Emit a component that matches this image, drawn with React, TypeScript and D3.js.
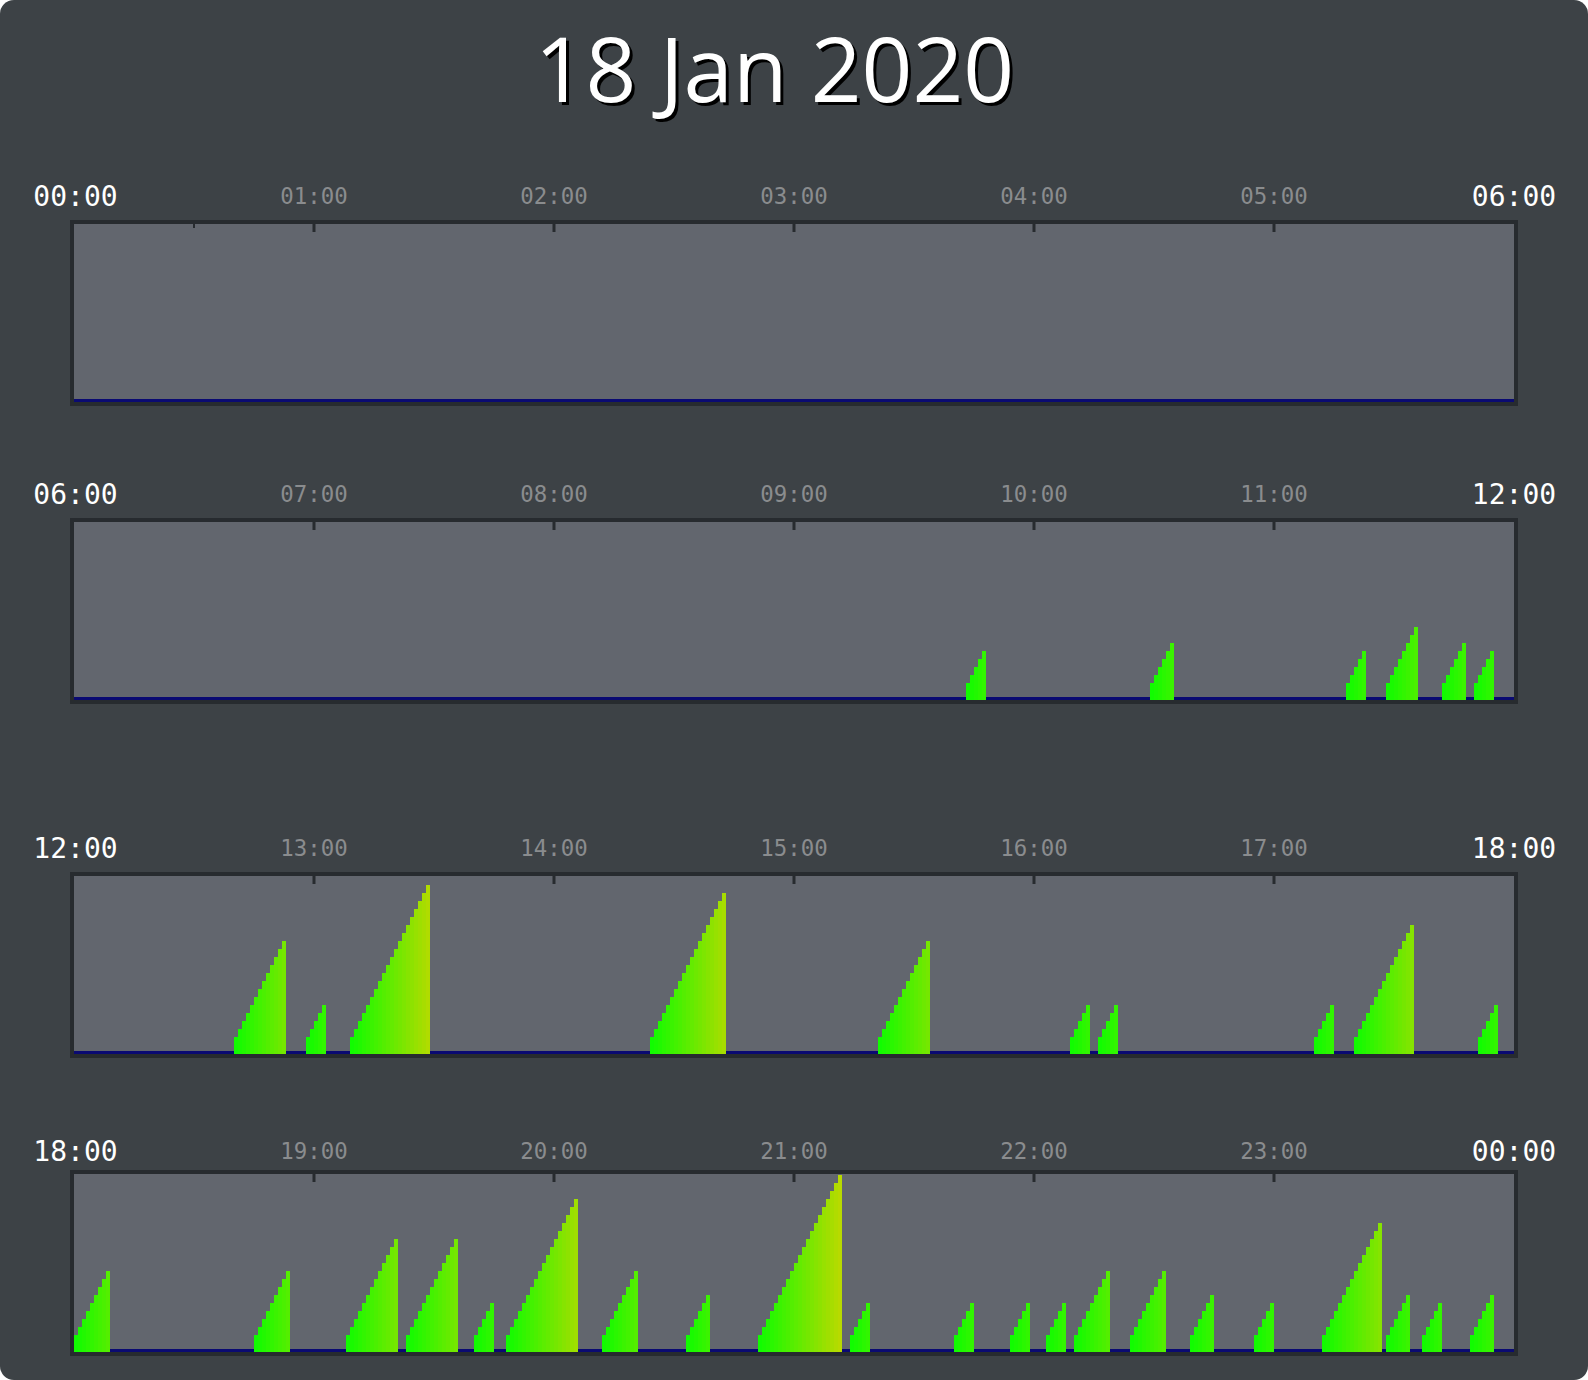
import React from "react";
import * as d3 from "d3";

const TITLE = "18 Jan 2020";

// panel start hours (each panel spans 6 hours)
const PANEL_STARTS = [0, 6, 12, 18];
const PANEL_TOPS = [220, 518, 872, 1170];
const LABEL_GAPS = [14.5, 14.5, 14.5, 9.5];

// sessions: start time and length in minutes (each minute drawn as one step)
const SESSION_STARTS = [
  "09:43", "10:29", "11:18", "11:28", "11:42", "11:50",
  "12:40", "12:58", "13:09", "14:24", "15:21", "16:09", "16:16", "17:10", "17:20", "17:51",
  "18:00", "18:45", "19:08", "19:23", "19:40", "19:48", "20:12", "20:33", "20:51", "21:14",
  "21:40", "21:54", "22:03", "22:10", "22:24", "22:39", "22:55", "23:12", "23:28", "23:37", "23:49",
];
const SESSION_MINUTES = [
  5, 6, 5, 8, 6, 5,
  13, 5, 20, 19, 13, 5, 5, 5, 15, 5,
  9, 9, 13, 13, 5, 18, 9, 6, 21, 5,
  5, 5, 5, 9, 9, 6, 5, 15, 6, 5, 6,
];

const W = 1588;
const H = 1380;
const INNER_LEFT = 74;
const INNER_RIGHT = 1514;
const FRAME = 4;
const INNER_H = 178;

const toMin = (s: string) => {
  const [h, m] = s.split(":").map(Number);
  return h * 60 + m;
};
const fmt = (h: number) => `${String(h % 24).padStart(2, "0")}:00`;

// per-minute values: elapsed minutes of the session (+1)
const steps: { t: number; v: number }[] = [];
SESSION_STARTS.forEach((s, i) => {
  const t0 = toMin(s);
  for (let k = 0; k < SESSION_MINUTES[i]; k++) steps.push({ t: t0 + k, v: k + 2 });
});

const color = d3.scaleLinear<string>().domain([0, 22]).range(["#00ff00", "#b8da00"]).interpolate(d3.interpolateRgb);

export default function App() {
  const mono = "'DejaVu Sans Mono', monospace";
  return (
    <svg width={W} height={H} style={{ position: "absolute", left: 0, top: 0, display: "block" }}>
      <rect x={0} y={0} width={W} height={H} rx={14} fill="#3d4246" />
      <text x={777.5} y={104.7} textAnchor="middle" fontFamily="'Open Sans'" fontSize={89} fill="#000">
        {TITLE}
      </text>
      <text x={774.5} y={101.7} textAnchor="middle" fontFamily="'Open Sans'" fontSize={89} fill="#fff">
        {TITLE}
      </text>
      {PANEL_STARTS.map((h0, pi) => {
        const top = PANEL_TOPS[pi];
        const gap = LABEL_GAPS[pi];
        const innerTop = top + FRAME;
        const bottom = innerTop + INNER_H;
        const t0 = h0 * 60;
        const x = d3.scaleLinear().domain([t0, t0 + 360]).range([INNER_LEFT, INNER_RIGHT]);
        const y = d3.scaleLinear().domain([-0.125, 22]).range([bottom, bottom - 177]);
        const hours = d3.range(h0 + 1, h0 + 6);
        const data = steps.filter((d) => d.t >= t0 && d.t < t0 + 360);
        return (
          <g key={pi}>
            <rect x={INNER_LEFT - FRAME} y={top} width={INNER_RIGHT - INNER_LEFT + 2 * FRAME} height={INNER_H + 2 * FRAME} fill="#272b2f" />
            <rect x={INNER_LEFT} y={innerTop} width={INNER_RIGHT - INNER_LEFT} height={INNER_H} fill="#62666e" />
            {hours.map((h) => (
              <rect key={h} x={x(h * 60) - 1.5} y={innerTop} width={3} height={8} fill="#272b2f" />
            ))}
            {pi === 0 && <rect x={x(30) - 1} y={innerTop} width={2} height={4} fill="#272b2f" />}
            <rect x={INNER_LEFT} y={bottom - 3} width={INNER_RIGHT - INNER_LEFT} height={3} fill="#0a0a72" />
            {data.map((d, i) => (
              <rect
                key={i}
                x={x(d.t)}
                y={y(d.v)}
                width={x(d.t + 1) - x(d.t)}
                height={bottom - y(d.v)}
                fill={color(d.v)}
                shapeRendering="crispEdges"
              />
            ))}
            <text x={INNER_LEFT + 1.5} y={top - gap} textAnchor="middle" fontFamily={mono} fontSize={28} fill="#fff">
              {fmt(h0)}
            </text>
            <text x={INNER_RIGHT} y={top - gap} textAnchor="middle" fontFamily={mono} fontSize={28} fill="#fff">
              {fmt(h0 + 6)}
            </text>
            {hours.map((h) => (
              <text key={h} x={x(h * 60)} y={top - gap - 1.8} textAnchor="middle" fontFamily={mono} fontSize={22.4} fill="#8a8c8e">
                {fmt(h)}
              </text>
            ))}
          </g>
        );
      })}
    </svg>
  );
}
